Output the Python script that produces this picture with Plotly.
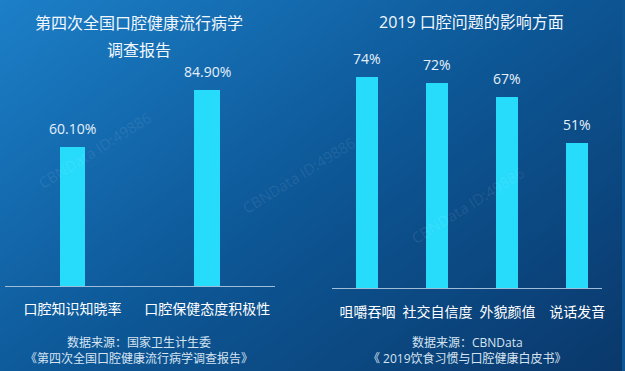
import numpy as np
import plotly.graph_objects as go

# ---------------- data ----------------
left_title_lines = ["第四次全国口腔健康流行病学", "调查报告"]
left_categories = ["口腔知识知晓率", "口腔保健态度积极性"]
left_values = [60.10, 84.90]
left_source = "数据来源：国家卫生计生委<br>《第四次全国口腔健康流行病学调查报告》"

right_title = "2019 口腔问题的影响方面"
right_categories = ["咀嚼吞咽", "社交自信度", "外貌颜值", "说话发音"]
right_values = [74, 72, 67, 51]
right_source = "数据来源：CBNData<br>《 2019饮食习惯与口腔健康白皮书》"

watermark = "CBNData ID:49886"

# ---------------- style ----------------
W, H = 625, 371
FONT = "Open Sans, Noto Sans CJK SC, sans-serif"
BAR = "#27dcfb"
LABEL = "#e6f0fa"
AXLINE = "#9fbcd8"

def px_x(p):
    return p / W

def px_y(p):
    return 1 - p / H

fig = go.Figure()

# background gradient (on the first, hidden subplot so it is drawn underneath)
gx = np.linspace(0, 1, 12)
gy = np.linspace(0, 1, 12)
GX, GY = np.meshgrid(gx, gy)
gz = 0.55 * (1 - GX) + 0.45 * GY  # GY=1 at top
fig.add_trace(go.Heatmap(
    x=gx, y=gy, z=gz, zsmooth="best", showscale=False, hoverinfo="skip",
    colorscale=[[0, "#0a386b"], [0.5, "#0d5796"], [1, "#1c7fc8"]],
    xaxis="x", yaxis="y"))

# left bars
fig.add_trace(go.Bar(
    x=left_categories, y=left_values, width=0.19, marker_color=BAR,
    marker_line_width=0, xaxis="x2", yaxis="y2", hoverinfo="skip"))
# right bars
fig.add_trace(go.Bar(
    x=right_categories, y=right_values, width=0.31, marker_color=BAR,
    marker_line_width=0, xaxis="x3", yaxis="y3", hoverinfo="skip"))

annotations = []
for c, v in zip(left_categories, left_values):
    annotations.append(dict(x=c, y=v, xref="x2", yref="y2", text=f"{v:.2f}%",
                            showarrow=False, xanchor="center", yanchor="bottom", yshift=7,
                            font=dict(size=14, color=LABEL, family=FONT)))
for c, v in zip(right_categories, right_values):
    annotations.append(dict(x=c, y=v, xref="x3", yref="y3", text=f"{v}%",
                            showarrow=False, xanchor="center", yanchor="bottom", yshift=7,
                            font=dict(size=14, color=LABEL, family=FONT)))

def paper_text(x, y, text, size, color):
    return dict(x=px_x(x), y=px_y(y), xref="paper", yref="paper", text=text,
                showarrow=False, align="center", xanchor="center", yanchor="middle",
                font=dict(size=size, color=color, family=FONT))

# titles
annotations.append(paper_text(140, 23, left_title_lines[0], 16, "#f2f7fc"))
annotations.append(paper_text(140, 50, left_title_lines[1], 16, "#f2f7fc"))
annotations.append(paper_text(474, 22, right_title, 16, "#f2f7fc"))
# sources
annotations.append(paper_text(140, 350, left_source, 12, "#d6e4f2"))
annotations.append(paper_text(470, 350, right_source, 12, "#d6e4f2"))

# watermarks (faint, in open areas)
for (wx, wy) in [(300, 175), (470, 205), (95, 150)]:
    annotations.append(dict(x=px_x(wx), y=px_y(wy), xref="paper", yref="paper",
                            text=watermark, showarrow=False, textangle=-32,
                            xanchor="center", yanchor="middle",
                            font=dict(size=15, color="rgba(255,255,255,0.09)",
                                      family=FONT)))

# left axes geometry
L0, L1 = 5, 276
Lbase, Ltop = 286, 40
Lscale = 2.31
# right axes geometry
R0, R1 = 334, 605
Rbase, Rtop = 288, 40
Rscale = 2.85
Rstep = 70.33

fig.update_layout(
    width=W, height=H, margin=dict(l=0, r=0, t=0, b=0),
    paper_bgcolor="#0d5796", plot_bgcolor="rgba(0,0,0,0)",
    showlegend=False, bargap=0,
    font=dict(family=FONT),
    annotations=annotations,
    xaxis=dict(domain=[0, 1], range=[0, 1], visible=False, fixedrange=True),
    yaxis=dict(domain=[0, 1], range=[0, 1], visible=False, fixedrange=True),
    xaxis2=dict(domain=[px_x(L0), px_x(L1)], range=[-0.5, 1.5], anchor="y2",
                showline=True, linecolor=AXLINE, linewidth=1, showgrid=False,
                ticks="", ticklabelstandoff=10,
                tickfont=dict(size=14, color="#ffffff", family=FONT)),
    yaxis2=dict(domain=[px_y(Lbase), px_y(Ltop)],
                range=[0, (Lbase - Ltop) / Lscale], anchor="x2", visible=False),
    xaxis3=dict(domain=[px_x(R0), px_x(R1)],
                range=[-0.5, -0.5 + (R1 - R0) / Rstep], anchor="y3",
                showline=True, linecolor=AXLINE, linewidth=1, showgrid=False,
                ticks="", ticklabelstandoff=11,
                tickfont=dict(size=14, color="#ffffff", family=FONT)),
    yaxis3=dict(domain=[px_y(Rbase), px_y(Rtop)],
                range=[0, (Rbase - Rtop) / Rscale], anchor="x3", visible=False),
)

fig.write_html("out.html", config={"displayModeBar": False},
               post_script="document.body.style.margin='0';document.body.style.padding='0';")
